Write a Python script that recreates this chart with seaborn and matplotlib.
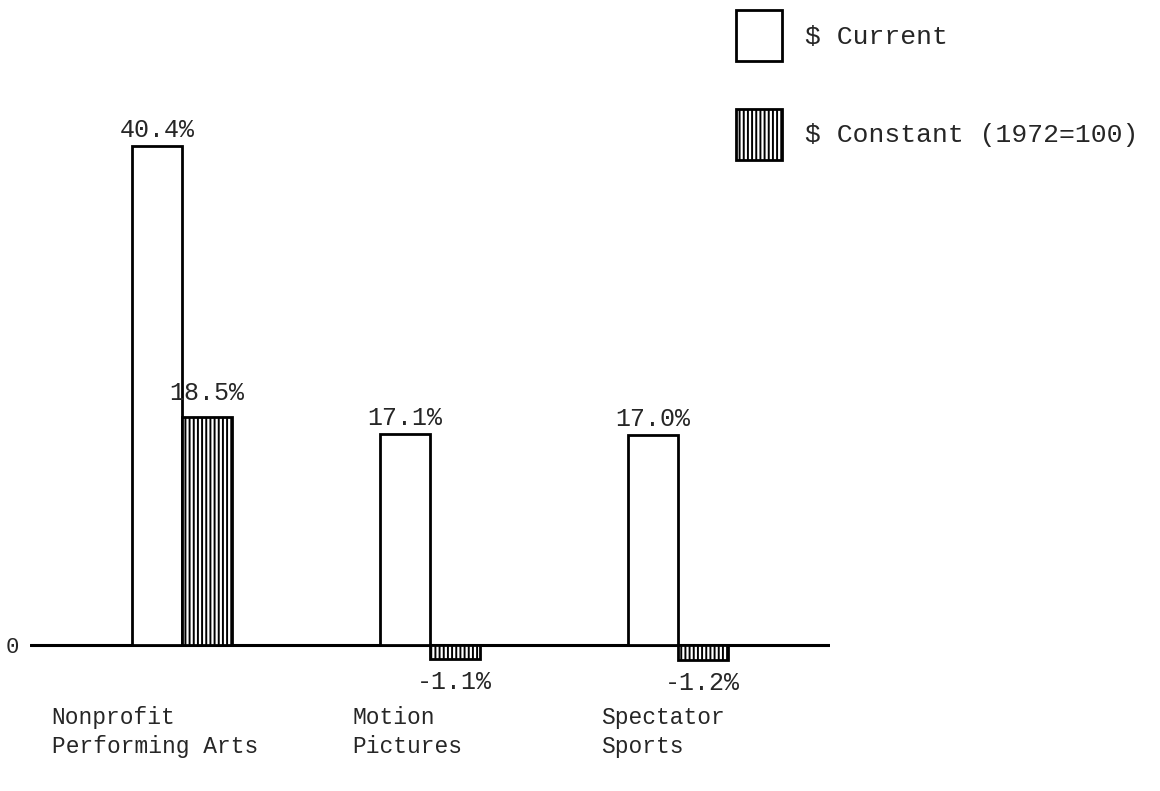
"""Spending growth chart: current vs constant dollars, three entertainment sectors."""
import pandas as pd
import seaborn as sns
import matplotlib.pyplot as plt
from matplotlib.patches import Patch

# Data
categories = ["Nonprofit Performing Arts", "Motion Pictures", "Spectator Sports"]
category_labels = ["Nonprofit\nPerforming Arts", "Motion\nPictures", "Spectator\nSports"]
series = ["$ Current", "$ Constant (1972=100)"]
current_values = [40.4, 17.1, 17.0]
constant_values = [18.5, -1.1, -1.2]
value_labels_current = ["40.4%", "17.1%", "17.0%"]
value_labels_constant = ["18.5%", "-1.1%", "-1.2%"]

df = pd.DataFrame({
    "category": categories * 2,
    "series": [series[0]] * 3 + [series[1]] * 3,
    "value": current_values + constant_values,
})

sns.set_style("white")
plt.rcParams["font.family"] = ["Liberation Mono", "DejaVu Sans Mono"]
plt.rcParams["hatch.linewidth"] = 1.4

fig = plt.figure(figsize=(11.6, 7.91), dpi=100)
ax = fig.add_axes([30 / 1160, 91 / 791, 800 / 1160, 640 / 791])

sns.barplot(data=df, x="category", y="value", hue="series", order=categories,
            hue_order=series, palette=["white", "white"], edgecolor="black",
            linewidth=2.0, width=0.4, gap=0, legend=False, ax=ax)

# hatch the constant-dollar bars
for p in ax.containers[1]:
    p.set_hatch("||||")

ax.bar_label(ax.containers[0], labels=value_labels_current, padding=3, fontsize=18)
ax.bar_label(ax.containers[1], labels=value_labels_constant, padding=8, fontsize=18)

ax.axhline(0, color="black", lw=2.2, zorder=0)
ax.set_xlim(-0.613, 2.613)
ax.set_ylim(-4.45, 47.37)
sns.despine(ax=ax, left=True, bottom=True)
ax.set_xticks([])
ax.set_yticks([0])
ax.set_yticklabels(["0"], fontsize=16)
ax.tick_params(axis="y", length=0, pad=8)
ax.set_xlabel("")
ax.set_ylabel("")

offsets = [-0.11, -0.09, -0.06]
for i, lab in enumerate(category_labels):
    ax.text(i + offsets[i], -0.01, lab, transform=ax.get_xaxis_transform(),
            ha="center", va="top", multialignment="left", fontsize=16.5,
            linespacing=1.3)

handles = [Patch(facecolor="white", edgecolor="black", linewidth=2.0),
           Patch(facecolor="white", edgecolor="black", linewidth=2.0, hatch="||||")]
fig.legend(handles, series, loc="upper left", bbox_to_anchor=(736 / 1160, 1 - 10 / 791),
           bbox_transform=fig.transFigure, frameon=False, fontsize=19,
           handlelength=1.75, handleheight=2.6, labelspacing=1.8,
           handletextpad=0.85, borderpad=0, borderaxespad=0)

plt.savefig("out.png", dpi=100)
